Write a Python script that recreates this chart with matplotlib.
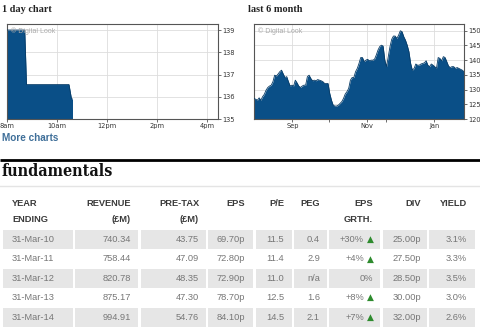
import numpy as np
import matplotlib.pyplot as plt
from matplotlib.patches import Rectangle

# ---- data ----
day_hours = [8.0, 8.71, 8.78, 10.48, 10.58, 10.62]
day_price = [139.0, 139.0, 136.55, 136.55, 135.9, 135.9]
day_ticks = [8, 10, 12, 14, 16]
day_labels = ['8am', '10am', '12pm', '2pm', '4pm']

six_month = [127.0, 126.7, 126.4, 127.2, 126.4, 127.6, 128.4, 129.8, 130.7, 131.2,
             131.5, 132.7, 134.9, 134.6, 135.3, 136.1, 136.6, 135.3, 134.1, 134.4,
             132.7, 131.2, 131.5, 131.2, 133.2, 132.3, 131.2, 130.7, 131.2, 131.5,
             131.5, 134.4, 134.9, 133.8, 133.0, 133.2, 133.0, 133.4, 133.2, 133.0,
             132.7, 132.1, 132.1, 132.1, 128.7, 126.4, 124.7, 124.4, 124.4, 124.7,
             125.3, 125.9, 127.0, 128.5, 129.3, 130.4, 133.2, 134.1, 134.1, 136.1,
             137.2, 138.9, 140.9, 140.9, 139.5, 140.0, 140.3, 139.8, 140.0, 140.0,
             140.3, 141.7, 143.4, 144.6, 145.1, 144.8, 140.0, 137.8, 141.2, 144.6,
             147.1, 148.2, 148.2, 147.4, 148.5, 150.0, 149.7, 148.0, 146.8, 145.1,
             142.9, 138.9, 136.6, 137.2, 138.7, 138.3, 138.3, 138.7, 138.9, 139.1,
             139.8, 138.3, 137.8, 138.7, 138.3, 137.8, 137.2, 140.9, 140.6, 139.8,
             141.2, 140.9, 139.5, 138.0, 137.5, 137.8, 137.8, 137.2, 137.5, 137.2,
             136.9, 136.6, 136.1]
month_grid = [22.3, 43.6, 65.5, 76.7, 104.8]
month_labels = ['Sep', '', 'Nov', '', 'Jan']

headers1 = ['YEAR', 'REVENUE', 'PRE-TAX', 'EPS', 'P/E', 'PEG', 'EPS', 'DIV', 'YIELD']
headers2 = ['ENDING', '(£M)', '(£M)', '', '', '', 'GRTH.', '', '']
years = ['31-Mar-10', '31-Mar-11', '31-Mar-12', '31-Mar-13', '31-Mar-14']
revenue = ['740.34', '758.44', '820.78', '875.17', '994.91']
pretax = ['43.75', '47.09', '48.35', '47.30', '54.76']
eps = ['69.70p', '72.80p', '72.90p', '78.70p', '84.10p']
pe = ['11.5', '11.4', '11.0', '12.5', '14.5']
peg = ['0.4', '2.9', 'n/a', '1.6', '2.1']
eps_growth = ['+30%', '+4%', '0%', '+8%', '+7%']
growth_up = [True, True, False, True, True]
div = ['25.00p', '27.50p', '28.50p', '30.00p', '32.00p']
yld = ['3.1%', '3.3%', '3.5%', '3.0%', '2.6%']

W, H = 480, 333
fig = plt.figure(figsize=(4.8, 3.33), dpi=100)
fig.patch.set_facecolor('white')

# overlay in pixel coords
bg = fig.add_axes([0, 0, 1, 1])
bg.set_xlim(0, W)
bg.set_ylim(H, 0)
bg.axis('off')

fill_c = '#0a4f87'
edge_c = '#073b66'
serif = 'DejaVu Serif'
sans = 'Liberation Sans'


def chart_axes(x0, x1, y0, y1):
    ax = fig.add_axes([x0 / W, 1 - y1 / H, (x1 - x0) / W, (y1 - y0) / H])
    ax.yaxis.tick_right()
    ax.grid(True, color='#dddddd', lw=0.6)
    ax.set_axisbelow(True)
    for s in ax.spines.values():
        s.set_color('#555555')
        s.set_linewidth(0.8)
    ax.tick_params(labelsize=4.8, length=2, width=0.5, colors='#333333', pad=1)
    ax.text(0.02, 0.97, '© Digital Look', transform=ax.transAxes, fontsize=5,
            color='#aaaaaa', va='top', ha='left', family=sans, zorder=5)
    return ax


# 1 day chart
ax1 = chart_axes(7, 218, 24, 119)
ax1.fill_between(day_hours, day_price, 135, color=fill_c, lw=0, zorder=2)
ax1.plot(day_hours, day_price, color=edge_c, lw=0.6, zorder=3)
ax1.set_xlim(8, 16.44)
ax1.set_ylim(135, 139.27)
ax1.set_yticks([135, 136, 137, 138, 139])
ax1.set_xticks(day_ticks)
ax1.set_xticklabels(day_labels)
bg.text(2, 10, '1 day chart', fontsize=7.4, fontweight='bold', family='Liberation Serif',
        va='center', ha='left', color='#222222')

# last 6 month chart
ax2 = chart_axes(254, 464, 24, 119)
xs = np.arange(len(six_month))
ax2.fill_between(xs, six_month, 120, color=fill_c, lw=0, zorder=2)
ax2.plot(xs, six_month, color=edge_c, lw=0.6, zorder=3)
ax2.set_xlim(0, len(six_month) - 1)
ax2.set_ylim(120, 152.3)
ax2.set_yticks([120, 125, 130, 135, 140, 145, 150])
ax2.set_xticks(month_grid)
ax2.set_xticklabels(month_labels)
bg.text(248, 10, 'last 6 month', fontsize=7.4, fontweight='bold', family='Liberation Serif',
        va='center', ha='left', color='#222222')

bg.text(2, 138, 'More charts', fontsize=7.2, fontweight='bold', family=sans,
        va='center', ha='left', color='#3f6f99')

# fundamentals header
bg.plot([0, W], [160, 160], color='black', lw=2, solid_capstyle='butt')
bg.text(2, 172, 'fundamentals', fontsize=11.5, fontweight='bold', family=serif,
        fontstretch='condensed', va='center', ha='left', color='#111111')
bg.plot([0, W], [186, 186], color='#e4e4e4', lw=1)

# table
cells = [(3, 73), (75, 138), (141, 206), (208, 253), (256, 292),
         (294, 327), (329, 380), (383, 427), (429, 475)]
anchor = [(12, 'left'), (131, 'right'), (199, 'right'), (245, 'right'), (284, 'right'),
          (320, 'right'), (373, 'right'), (421, 'right'), (467, 'right')]
head_c = '#3a3a3a'
val_c = '#777777'

for j in range(9):
    x, ha = anchor[j]
    bg.text(x, 204, headers1[j], fontsize=6.7, fontweight='bold', family=sans,
            color=head_c, ha=ha, va='center')
    if headers2[j]:
        bg.text(x, 220, headers2[j], fontsize=6.7, fontweight='bold', family=sans,
                color=head_c, ha=ha, va='center')

cols = [years, revenue, pretax, eps, pe, peg, eps_growth, div, yld]
for i in range(len(years)):
    yc = 239.5 + i * 19.4
    if i % 2 == 0:
        for (c0, c1) in cells:
            bg.add_patch(Rectangle((c0, yc - 9.6), c1 - c0, 19.2,
                                   facecolor='#e6e6e6', edgecolor='none'))
    for j in range(9):
        x, ha = anchor[j]
        txt = cols[j][i]
        if j == 6 and growth_up[i]:
            bg.text(374, yc, '▲', fontsize=6.5, color='#2e8b2e', ha='right',
                    va='center', family='DejaVu Sans')
            x = 364
        bg.text(x, yc, txt, fontsize=6.7, family=sans, color=val_c,
                ha=ha, va='center')

fig.savefig('out.png', dpi=100)
